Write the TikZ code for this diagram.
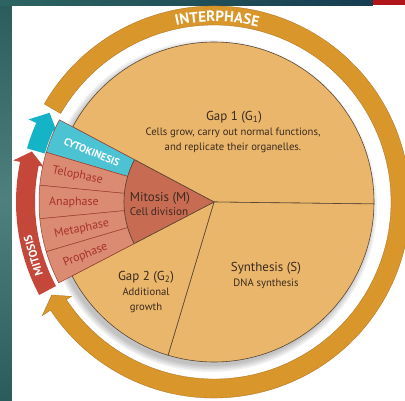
\documentclass[tikz,border=0pt]{standalone}
\usepackage{fontspec}
\setmainfont{PT Sans}
\usetikzlibrary{decorations.text}
\definecolor{ringorange}{HTML}{D9962B}
\definecolor{ringedge}{HTML}{A86F1C}
\definecolor{piefill}{HTML}{E9B66B}
\definecolor{pieline}{HTML}{5A4633}
\definecolor{cyanband}{HTML}{4CC3D3}
\definecolor{cyanarrow}{HTML}{14B4C6}
\definecolor{pinkband}{HTML}{DA8B72}
\definecolor{darkwedge}{HTML}{C86B53}
\definecolor{redarrow}{HTML}{C4473A}
\definecolor{bandtext}{HTML}{A9322B}
\definecolor{bandline}{HTML}{9E3E30}
\definecolor{darktext}{HTML}{3A2A1F}
\definecolor{stripteal}{HTML}{2F6B66}
\definecolor{stripdark}{HTML}{2A5C5C}
\definecolor{topleft}{HTML}{2D6461}
\definecolor{topright}{HTML}{163D50}
\definecolor{topred}{HTML}{B0161A}
\begin{document}
\begin{tikzpicture}[x=1bp,y=1bp,
  piece/.style={fill=piefill, draw=pieline, line width=0.6bp},
  bandpiece/.style={fill=pinkband, draw=bandline, line width=0.5bp},
  bandlabel/.style={text=bandtext, font=\fontsize{12}{13}\selectfont, inner sep=0pt},
  pietitle/.style={text=darktext, font=\fontsize{13}{14}\selectfont, inner sep=0pt},
  piebody/.style={text=darktext, font=\fontsize{10.7}{15}\selectfont, align=center, inner sep=0pt},
  caplabel/.style={text=white, font=\fontsize{10.5}{11}\selectfont\bfseries, inner sep=0pt}
]
\useasboundingbox (-214,-199) rectangle (191,202);
\clip (-214,-199) rectangle (191,202);
\fill[white] (-214,-199) rectangle (191,202);
% frame strips
\shade[top color=stripdark, bottom color=stripdark, middle color=stripteal!85!white] (-214,-199) rectangle (-202,202);
\shade[left color=topleft, right color=topright] (-214,197) rectangle (159,202);
\fill[topred] (159,197) rectangle (191,202);
% shadow of the pie
\foreach \r in {160,161.5,163,164.5,166}
  \fill[black, opacity=0.05] (-3,-4) circle[radius=\r bp];
% interphase ring
\fill[ringorange, draw=ringedge, line width=0.3bp]
  (150:196bp) arc[start angle=150, end angle=-146.5, radius=196bp]
  -- (-146.5:206bp) -- (-150.2:187bp) -- (-146.5:171bp) -- (-146.5:177bp)
  arc[start angle=-146.5, end angle=150, radius=177bp] -- cycle;
% cytokinesis arrow
\fill[cyanarrow]
  (164:194.5bp) arc[start angle=164, end angle=156, radius=194.5bp]
  -- (156:203bp) -- (151.5:187bp) -- (156:172bp) -- (156:176bp)
  arc[start angle=156, end angle=164, radius=176bp] -- cycle;
% mitosis arrow
\fill[redarrow]
  (208:198bp) arc[start angle=208, end angle=168.3, radius=198bp]
  -- (168.3:205bp) -- (164.5:189bp) -- (168.3:174bp) -- (168.3:179bp)
  arc[start angle=168.3, end angle=208, radius=179bp] -- cycle;
% pie pieces
\filldraw[piece] (0,0) -- (-0.7:160bp) arc[start angle=-0.7, end angle=152, radius=160bp] -- cycle;
\filldraw[piece] (0,0) -- (-0.7:160bp) arc[start angle=-0.7, end angle=-106.7, radius=160bp] -- cycle;
\filldraw[piece] (0,0) -- (207.5:160bp) arc[start angle=207.5, end angle=253.3, radius=160bp] -- cycle;
% mitosis wedge bands
\filldraw[fill=cyanband, draw=bandline, line width=0.5bp]
  (152:90bp) -- (152:175bp) arc[start angle=152, end angle=163.5, radius=175bp]
  -- (163.5:90bp) arc[start angle=163.5, end angle=152, radius=90bp] -- cycle;
\foreach \a/\b in {163.5/174.5, 174.5/185.5, 185.5/196.5, 196.5/207.5}
  \filldraw[bandpiece] (\a:90bp) -- (\a:175bp) arc[start angle=\a, end angle=\b, radius=175bp]
  -- (\b:90bp) arc[start angle=\b, end angle=\a, radius=90bp] -- cycle;
\filldraw[fill=darkwedge, draw=pieline, line width=0.6bp]
  (0,0) -- (152:90bp) arc[start angle=152, end angle=207.5, radius=90bp] -- cycle;
% band labels
\node[caplabel, rotate=-22.25] (cyto) at (157.75:132bp) {CYTOKINESIS};
\node[bandlabel, rotate=-11] (telo) at (169:139bp) {Telophase};
\node[bandlabel, rotate=0] (ana) at (180:140bp) {Anaphase};
\node[bandlabel, rotate=11.5] (meta) at (191.5:135bp) {Metaphase};
\node[bandlabel, rotate=22.5] (pro) at (202.5:139bp) {Prophase};
% mitosis core
\node[pietitle] (mtitle) at (-54,4) {Mitosis (M)};
\node[text=darktext, font=\fontsize{11.2}{12}\selectfont, inner sep=0pt] (mbody) at (-55,-9.5) {Cell division};
% gap 1
\node[pietitle] (g1title) at (20,85) {Gap 1 (G\textsubscript{1})};
\node[piebody] (g1body) at (19,61.5) {Cells grow, carry out normal functions,\\and replicate their organelles.};
% synthesis
\node[pietitle] (stitle) at (52,-66) {Synthesis (S)};
\node[piebody] (sbody) at (52,-81.5) {DNA synthesis};
% gap 2
\node[pietitle] (g2title) at (-68,-75) {Gap 2 (G\textsubscript{2})};
\node[piebody] (g2body) at (-68,-98.5) {Additional\\growth};
% curved labels
\path[decorate, decoration={text along path, text align=center, text color=white,
  text={|\fontsize{15}{15}\selectfont\bfseries|INTERPHASE}}]
  (124:180.5bp) arc[start angle=124, end angle=54, radius=180.5bp];
\node[text=white, font=\fontsize{11.5}{12}\selectfont\bfseries, inner sep=0pt, rotate=106.5] (mitlabel) at (196.5:188.5bp) {MITOSIS};
\end{tikzpicture}
\end{document}
